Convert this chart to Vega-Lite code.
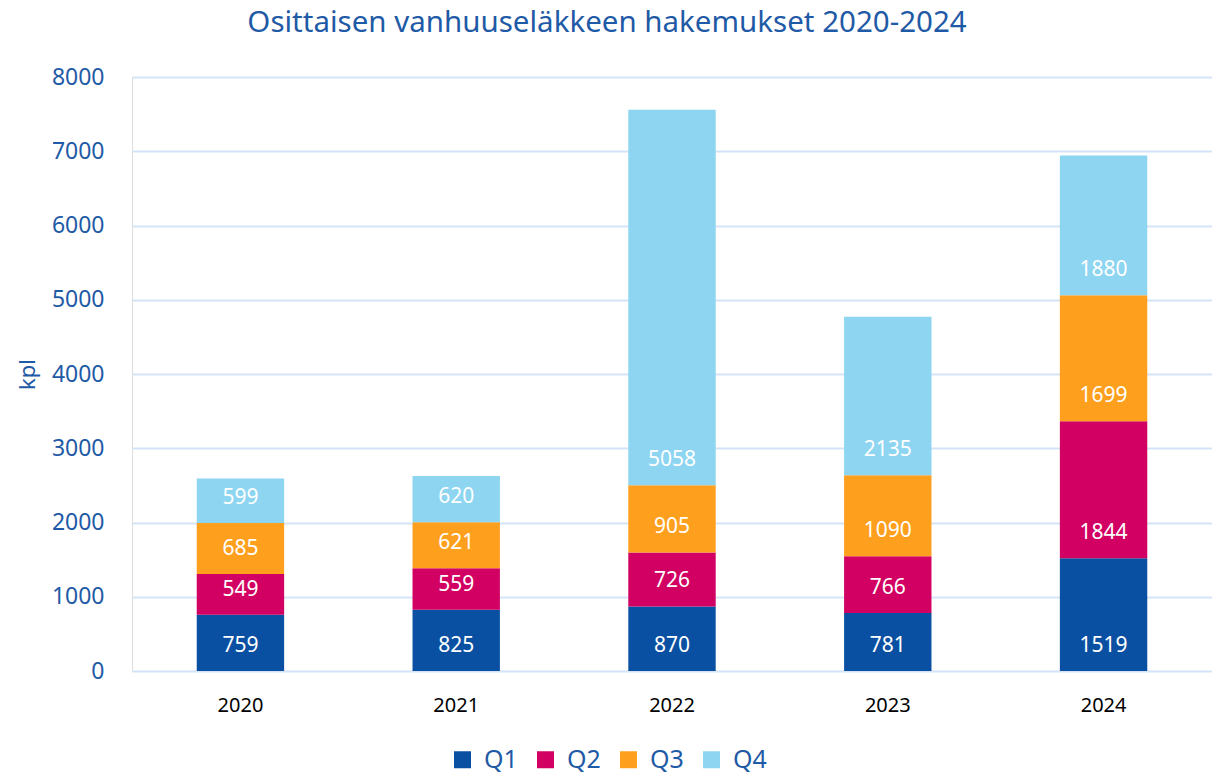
{
  "$schema": "https://vega.github.io/schema/vega-lite/v6.json",
  "width": 1080,
  "height": 594,
  "autosize": {"type": "none"},
  "padding": {"left": 132, "top": 77, "right": 0, "bottom": 106},
  "background": "white",
  "title": {
    "text": "Osittaisen vanhuuseläkkeen hakemukset 2020-2024",
    "font": "Noto Sans",
    "fontSize": 29.5,
    "fontWeight": "normal",
    "color": "#1F5AA6",
    "anchor": "middle",
    "frame": "group",
    "dx": -65,
    "offset": 28
  },
  "data": {
    "values": [
      {"year": "2020", "q": "Q1", "v": 759},
      {"year": "2020", "q": "Q2", "v": 549},
      {"year": "2020", "q": "Q3", "v": 685},
      {"year": "2020", "q": "Q4", "v": 599},
      {"year": "2021", "q": "Q1", "v": 825},
      {"year": "2021", "q": "Q2", "v": 559},
      {"year": "2021", "q": "Q3", "v": 621},
      {"year": "2021", "q": "Q4", "v": 620},
      {"year": "2022", "q": "Q1", "v": 870},
      {"year": "2022", "q": "Q2", "v": 726},
      {"year": "2022", "q": "Q3", "v": 905},
      {"year": "2022", "q": "Q4", "v": 5058},
      {"year": "2023", "q": "Q1", "v": 781},
      {"year": "2023", "q": "Q2", "v": 766},
      {"year": "2023", "q": "Q3", "v": 1090},
      {"year": "2023", "q": "Q4", "v": 2135},
      {"year": "2024", "q": "Q1", "v": 1519},
      {"year": "2024", "q": "Q2", "v": 1844},
      {"year": "2024", "q": "Q3", "v": 1699},
      {"year": "2024", "q": "Q4", "v": 1880}
    ]
  },
  "transform": [
    {"stack": "v", "groupby": ["year"], "sort": [{"field": "q", "order": "ascending"}], "as": ["v0", "v1"]}
  ],
  "encoding": {
    "x": {
      "field": "year",
      "type": "nominal",
      "scale": {"paddingInner": 0.595, "paddingOuter": 0.3},
      "axis": {
        "title": null,
        "labelAngle": 0,
        "labelFont": "Noto Sans",
        "labelFontSize": 20,
        "labelFontWeight": "normal",
        "labelColor": "#000000",
        "labelPadding": 24,
        "ticks": false,
        "domain": false,
        "grid": false
      }
    }
  },
  "layer": [
    {
      "mark": {"type": "bar"},
      "encoding": {
        "y": {
          "field": "v0",
          "type": "quantitative",
          "scale": {"domain": [0, 8000], "nice": false},
          "axis": {
            "title": "kpl",
            "titleFont": "Noto Sans",
            "titleFontSize": 22,
            "titleFontWeight": "normal",
            "titleColor": "#1F5AA6",
            "titlePadding": 12,
            "values": [0, 1000, 2000, 3000, 4000, 5000, 6000, 7000, 8000],
            "format": "d",
            "labelFont": "Noto Sans",
            "labelFontSize": 23,
            "labelColor": "#1F5AA6",
            "labelPadding": 28,
            "ticks": false,
            "domain": false,
            "grid": true,
            "gridColor": "#D4E4F6",
            "gridWidth": 2
          }
        },
        "y2": {"field": "v1"},
        "color": {
          "field": "q",
          "type": "nominal",
          "scale": {
            "domain": ["Q1", "Q2", "Q3", "Q4"],
            "range": ["#0A50A2", "#D10062", "#FF9F1E", "#8ED5F2"]
          },
          "legend": {
            "title": null,
            "orient": "none",
            "direction": "horizontal",
            "legendX": 318,
            "legendY": 670,
            "symbolType": "square",
            "symbolSize": 289,
            "symbolStrokeWidth": 0,
            "symbolOpacity": 1,
            "labelFont": "Noto Sans",
            "labelFontSize": 25,
            "labelColor": "#1F5AA6",
            "labelOffset": 9,
            "columnPadding": 15
          }
        }
      }
    },
    {
      "mark": {"type": "text", "color": "white", "font": "Noto Sans", "fontSize": 21, "baseline": "middle", "dy": -25},
      "encoding": {
        "y": {"field": "v0", "type": "quantitative"},
        "text": {"field": "v", "type": "quantitative", "format": "d"}
      }
    }
  ]
}
